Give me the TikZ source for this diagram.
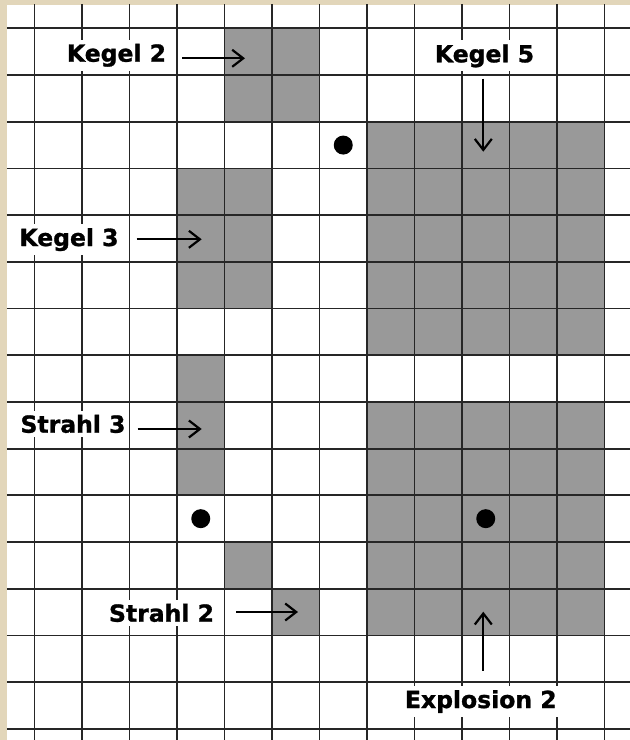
\documentclass[tikz,border=0pt]{standalone}
\usepackage{fontspec}
\setsansfont[BoldFeatures={FakeBold=1.2}]{DejaVu Sans}
\usetikzlibrary{arrows.meta}
\definecolor{parchment}{RGB}{226,214,186}

\begin{document}
\begin{tikzpicture}[x=1pt,y=-1pt,
    cell/.style={fill=black!40},
    gridline/.style={draw=black!85,line width=1.8pt},
    tag/.style={font=\sffamily\bfseries\fontsize{23.5}{26}\selectfont,fill=white,inner xsep=3pt,inner ysep=4pt,anchor=base},
    arrow/.style={-{Straight Barb[length=11pt,width=17pt]},line width=2.2pt},
    dot/.style={circle,fill=black,inner sep=0pt,minimum size=19pt}
]
\useasboundingbox (0,0) rectangle (630,740);
\fill[parchment] (0,0) rectangle (630,740);
\fill[white] (7,4.7) rectangle (630,740);

% board, one unit = one cell
\begin{scope}[shift={(34.5,28.3)},x=47.5pt,y=-46.7pt]
\fill[cell] (4,0) rectangle (6,2);   % Kegel 2
\fill[cell] (7,2) rectangle (12,7);  % Kegel 5
\fill[cell] (3,3) rectangle (5,6);   % Kegel 3
\fill[cell] (3,7) rectangle (4,10);  % Strahl 3
\fill[cell] (4,11) rectangle (5,12); % Strahl 2
\fill[cell] (5,12) rectangle (6,13);
\fill[cell] (7,8) rectangle (12,13); % Explosion 2
\foreach \i in {0,...,12}
    \draw[gridline] (\i,-0.51) -- (\i,15.24);
\foreach \j in {0,...,15}
    \draw[gridline] (-0.58,\j) -- (12.54,\j);
\node[dot] (top) at (6.5,2.5) {};
\node[dot] (left) at (3.5,10.5) {};
\node[dot] (right) at (9.5,10.5) {};
\end{scope}

\node[tag] (kegel2) at (116.5,61.7) {Kegel 2};
\node[tag] (kegel5) at (484.5,62.3) {Kegel 5};
\node[tag] (kegel3) at (69,246) {Kegel 3};
\node[tag] (strahl3) at (73,432.7) {Strahl 3};
\node[tag] (strahl2) at (161.5,621.7) {Strahl 2};
\node[tag] (explosion2) at (480.8,708) {Explosion 2};

\coordinate (kegel2tip) at (245,58.3);
\coordinate (kegel5tip) at (483.3,151.7);
\coordinate (kegel3tip) at (201.7,239.3);
\coordinate (strahl3tip) at (201.7,429);
\coordinate (strahl2tip) at (298,612);
\coordinate (explosion2tip) at (483.3,611.7);

\draw[arrow,shorten <=13pt] (kegel2.east |- kegel2tip) -- (kegel2tip);
\draw[arrow,shorten <=7pt] (kegel5.south -| kegel5tip) -- (kegel5tip);
\draw[arrow,shorten <=15pt] (kegel3.east |- kegel3tip) -- (kegel3tip);
\draw[arrow,shorten <=9pt] (strahl3.east |- strahl3tip) -- (strahl3tip);
\draw[arrow,shorten <=19pt] (strahl2.east |- strahl2tip) -- (strahl2tip);
\draw[arrow,shorten <=15pt] (explosion2.north -| explosion2tip) -- (explosion2tip);
\end{tikzpicture}
\end{document}
